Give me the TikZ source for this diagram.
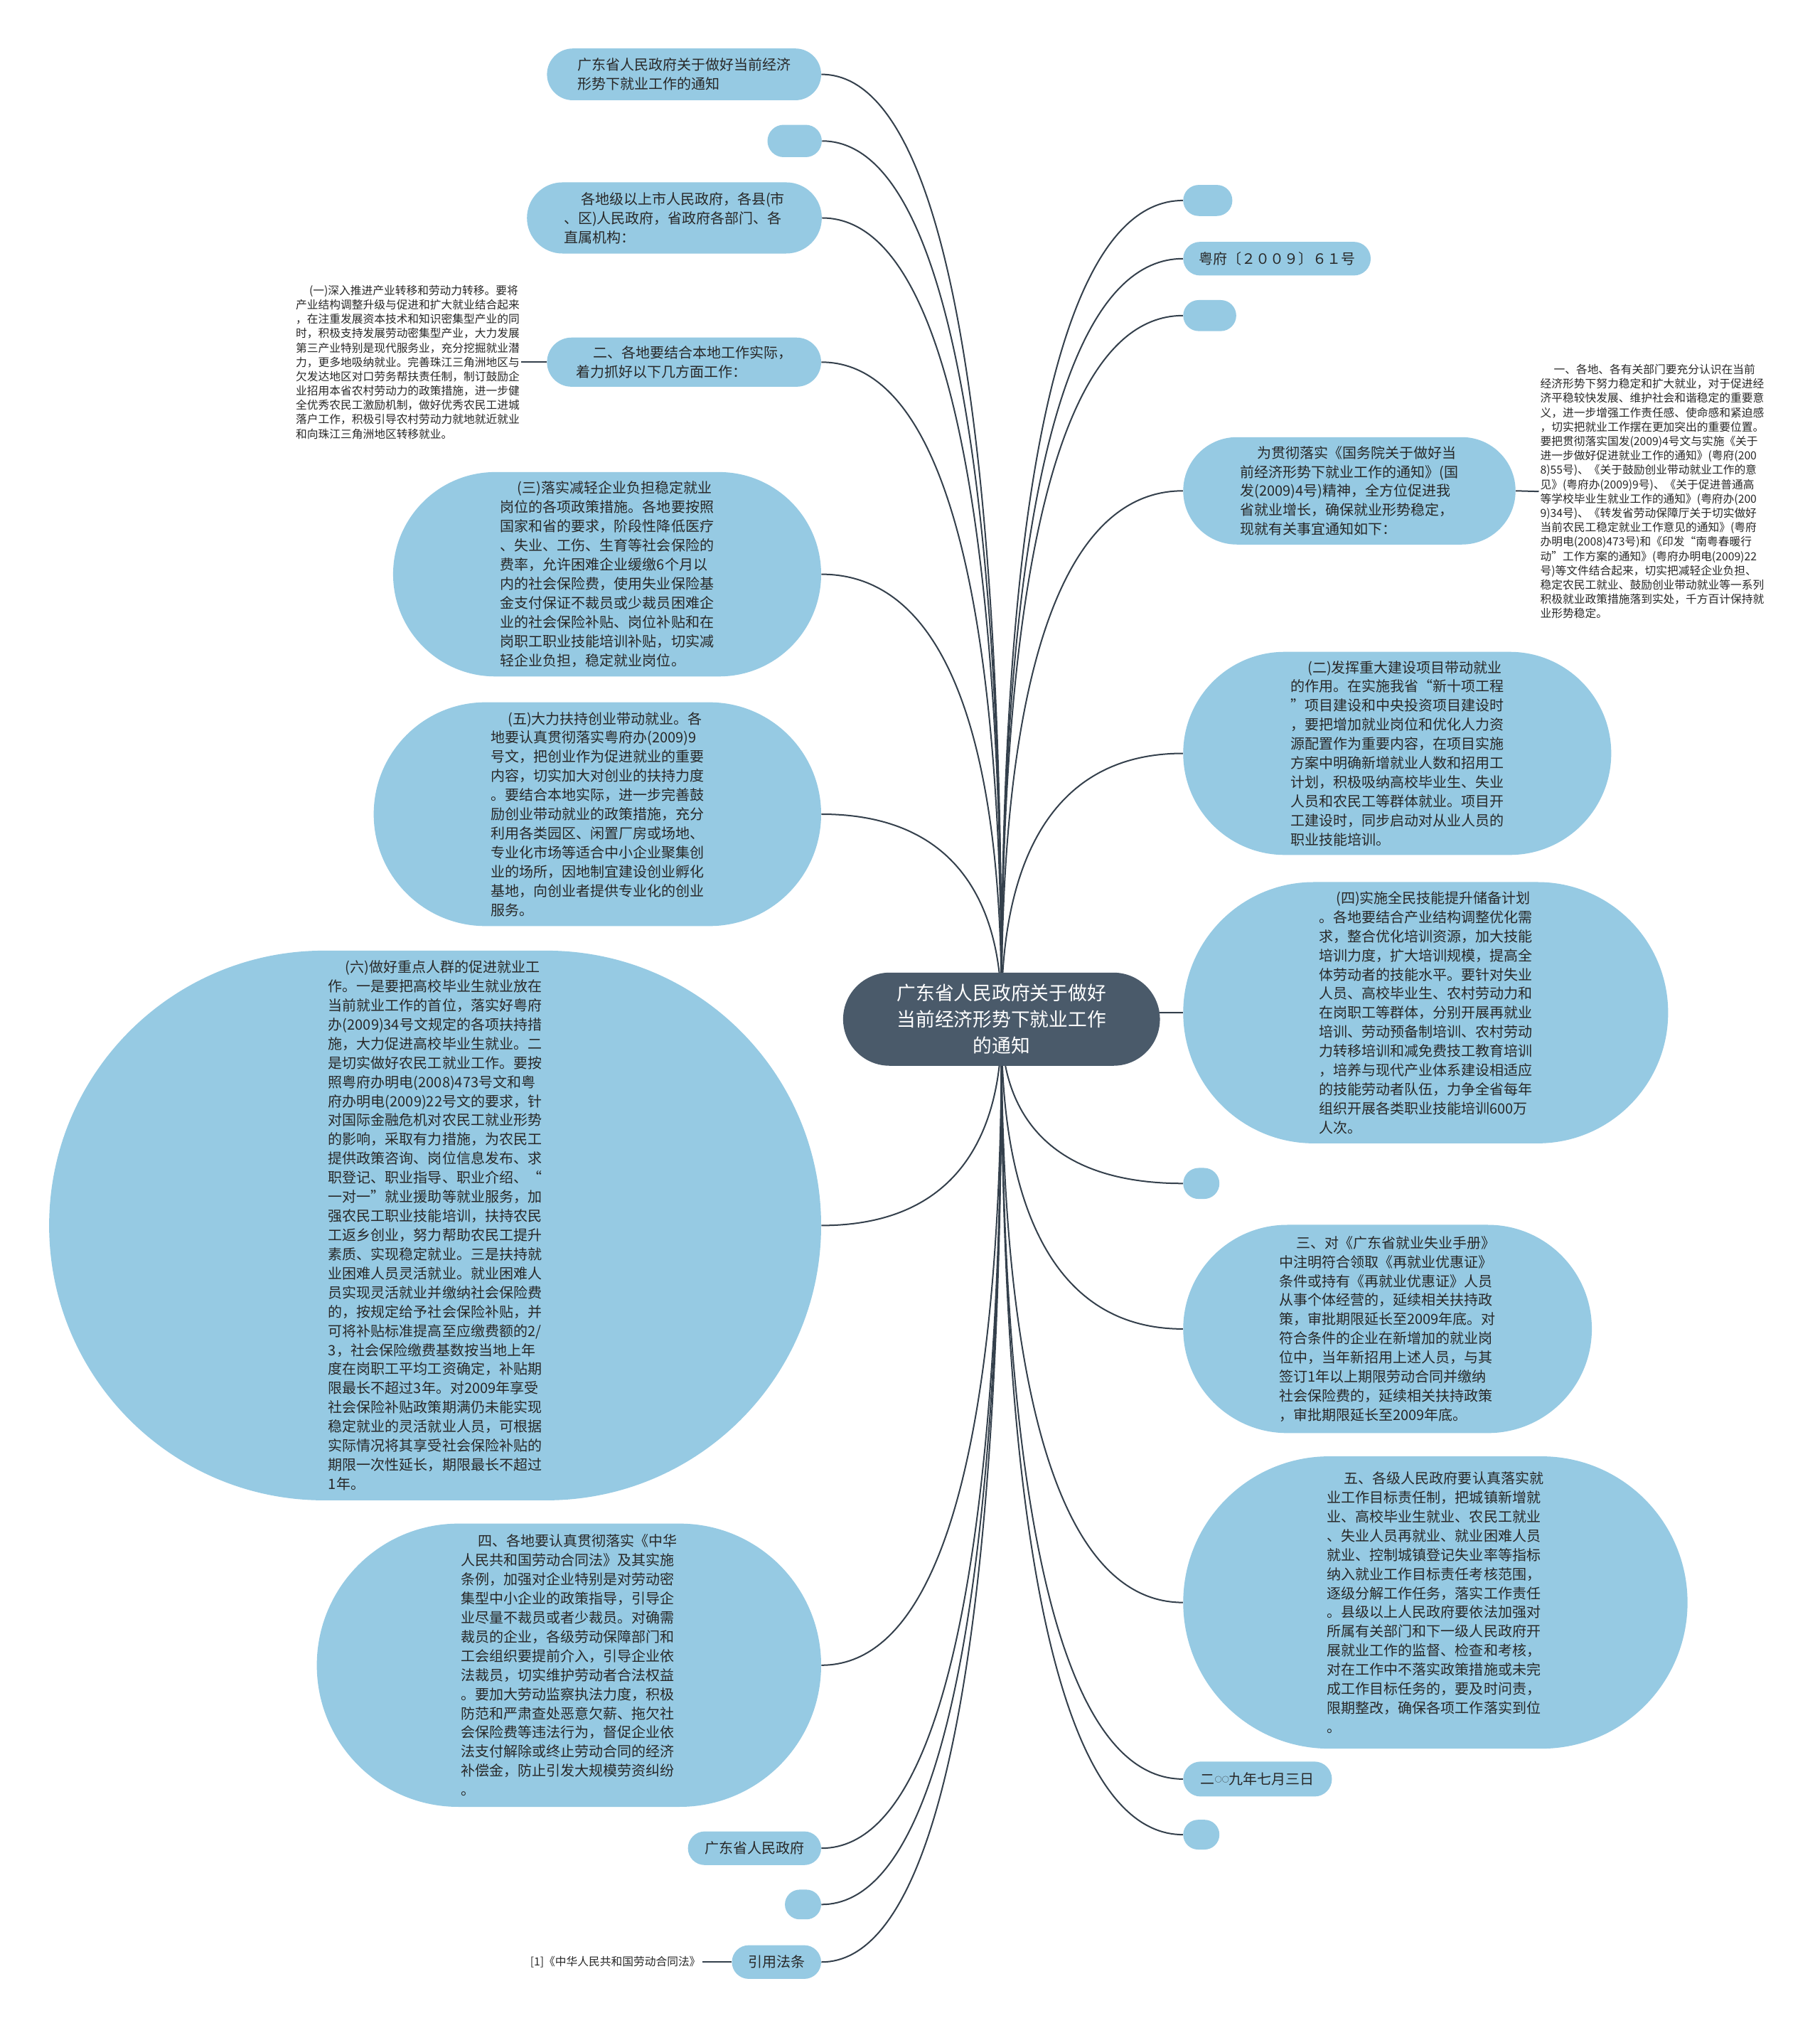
\documentclass[tikz,border=0pt]{standalone}
\usepackage{fontspec}
\setmainfont{Noto Sans CJK SC}
\usetikzlibrary{calc,backgrounds}
\definecolor{nodeblue}{RGB}{150,202,227}
\definecolor{rootgray}{RGB}{74,90,106}
\definecolor{linecol}{RGB}{52,64,76}
\definecolor{txt}{RGB}{40,40,40}
\tikzset{
  bub/.style={fill=nodeblue, text=txt, inner sep=0pt, align=left, font=\fontsize{11}{14.8}\selectfont},
  sz/.style 2 args={minimum width=#1pt, minimum height=#2pt, rounded corners=#2*0.5pt},
  rootbox/.style={fill=rootgray, text=white, inner sep=0pt, align=center, font=\fontsize{14.7}{20.5}\selectfont},
  smalltext/.style={text=txt, inner sep=1pt, align=left, font=\fontsize{8.65}{11.1}\selectfont},
  conn/.style={draw=linecol, line width=1.1pt},
}
\newcommand\ind{\hspace*{1.2em}}
\newcommand\smallcirc{{\fontsize{5.5}{5.5}\selectfont\raisebox{1.4pt}{○○}}}
\newcommand\linkto[2]{\draw[conn] (root.center) .. controls ($(root.center)!0.22!(root.center |- #1.#2)$) and (root.center |- #1.#2) .. (#1.#2);}
\begin{document}
\begin{tikzpicture}[x=1pt,y=-1pt]
\begin{pgfonlayer}{background}
\fill[white] (0,0) rectangle (1407,1568);
\end{pgfonlayer}
\useasboundingbox (0,0) rectangle (1407,1568);

% root
\node[rootbox, sz={245}{72}] (root) at (774.5,788) {广东省人民政府关于做好\\当前经济形势下就业工作\\的通知};

% left side
\node[bub, sz={212}{40}] (L1) at (529,57.5) {广东省人民政府关于做好当前经济\\形势下就业工作的通知};
\node[bub, sz={42}{25}] (L2) at (614.5,109) {};
\node[bub, sz={228}{55}] (L3) at (521.5,168.5) {\ind 各地级以上市人民政府，各县(市\\、区)人民政府，省政府各部门、各\\直属机构：};
\node[bub, sz={212}{38}] (L4) at (529,280) {\ind 二、各地要结合本地工作实际，\\着力抓好以下几方面工作：};
\node[smalltext, anchor=east] (L4a) at (403,280) {\ind (一)深入推进产业转移和劳动力转移。要将\\产业结构调整升级与促进和扩大就业结合起来\\，在注重发展资本技术和知识密集型产业的同\\时，积极支持发展劳动密集型产业，大力发展\\第三产业特别是现代服务业，充分挖掘就业潜\\力，更多地吸纳就业。完善珠江三角洲地区与\\欠发达地区对口劳务帮扶责任制，制订鼓励企\\业招用本省农村劳动力的政策措施，进一步健\\全优秀农民工激励机制，做好优秀农民工进城\\落户工作，积极引导农村劳动力就地就近就业\\和向珠江三角洲地区转移就业。};
\node[bub, sz={331}{158}] (L5) at (469.5,444) {\ind (三)落实减轻企业负担稳定就业\\岗位的各项政策措施。各地要按照\\国家和省的要求，阶段性降低医疗\\、失业、工伤、生育等社会保险的\\费率，允许困难企业缓缴6个月以\\内的社会保险费，使用失业保险基\\金支付保证不裁员或少裁员困难企\\业的社会保险补贴、岗位补贴和在\\岗职工职业技能培训补贴，切实减\\轻企业负担，稳定就业岗位。};
\node[bub, sz={346}{173}] (L6) at (462,629.5) {\ind (五)大力扶持创业带动就业。各\\地要认真贯彻落实粤府办(2009)9\\号文，把创业作为促进就业的重要\\内容，切实加大对创业的扶持力度\\。要结合本地实际，进一步完善鼓\\励创业带动就业的政策措施，充分\\利用各类园区、闲置厂房或场地、\\专业化市场等适合中小企业聚集创\\业的场所，因地制宜建设创业孵化\\基地，向创业者提供专业化的创业\\服务。};
\node[bub, sz={597}{425}] (L7) at (336.5,947.5) {\ind (六)做好重点人群的促进就业工\\作。一是要把高校毕业生就业放在\\当前就业工作的首位，落实好粤府\\办(2009)34号文规定的各项扶持措\\施，大力促进高校毕业生就业。二\\是切实做好农民工就业工作。要按\\照粤府办明电(2008)473号文和粤\\府办明电(2009)22号文的要求，针\\对国际金融危机对农民工就业形势\\的影响，采取有力措施，为农民工\\提供政策咨询、岗位信息发布、求\\职登记、职业指导、职业介绍、“\\一对一”就业援助等就业服务，加\\强农民工职业技能培训，扶持农民\\工返乡创业，努力帮助农民工提升\\素质、实现稳定就业。三是扶持就\\业困难人员灵活就业。就业困难人\\员实现灵活就业并缴纳社会保险费\\的，按规定给予社会保险补贴，并\\可将补贴标准提高至应缴费额的2/\\3，社会保险缴费基数按当地上年\\度在岗职工平均工资确定，补贴期\\限最长不超过3年。对2009年享受\\社会保险补贴政策期满仍未能实现\\稳定就业的灵活就业人员，可根据\\实际情况将其享受社会保险补贴的\\期限一次性延长，期限最长不超过\\1年。};
\node[bub, sz={390}{219}] (L8) at (440,1287.5) {\ind 四、各地要认真贯彻落实《中华\\人民共和国劳动合同法》及其实施\\条例，加强对企业特别是对劳动密\\集型中小企业的政策指导，引导企\\业尽量不裁员或者少裁员。对确需\\裁员的企业，各级劳动保障部门和\\工会组织要提前介入，引导企业依\\法裁员，切实维护劳动者合法权益\\。要加大劳动监察执法力度，积极\\防范和严肃查处恶意欠薪、拖欠社\\会保险费等违法行为，督促企业依\\法支付解除或终止劳动合同的经济\\补偿金，防止引发大规模劳资纠纷\\。};
\node[bub, sz={103}{26}] (L9) at (583.5,1429) {广东省人民政府};
\node[bub, sz={28}{23}] (L10) at (621,1472.5) {};
\node[bub, sz={69}{26}] (L11) at (600.5,1517) {引用法条};
\node[smalltext, anchor=east] (L11a) at (543,1517) {[1]《中华人民共和国劳动合同法》};

% right side
\node[bub, sz={38}{24}] (R1) at (934,155) {};
\node[bub, sz={145}{26}] (R2) at (987.5,200) {粤府〔２００９〕６１号};
\node[bub, sz={41}{24}] (R3) at (935.5,244) {};
\node[bub, sz={257}{83}] (R4) at (1043.5,379.5) {\ind 为贯彻落实《国务院关于做好当\\前经济形势下就业工作的通知》(国\\发(2009)4号)精神，全方位促进我\\省就业增长，确保就业形势稳定，\\现就有关事宜通知如下：};
\node[smalltext, anchor=west] (R4a) at (1190,380) {\ind 一、各地、各有关部门要充分认识在当前\\经济形势下努力稳定和扩大就业，对于促进经\\济平稳较快发展、维护社会和谐稳定的重要意\\义，进一步增强工作责任感、使命感和紧迫感\\，切实把就业工作摆在更加突出的重要位置。\\要把贯彻落实国发(2009)4号文与实施《关于\\进一步做好促进就业工作的通知》(粤府(200\\8)55号)、《关于鼓励创业带动就业工作的意\\见》(粤府办(2009)9号)、《关于促进普通高\\等学校毕业生就业工作的通知》(粤府办(200\\9)34号)、《转发省劳动保障厅关于切实做好\\当前农民工稳定就业工作意见的通知》(粤府\\办明电(2008)473号)和《印发“南粤春暖行\\动”工作方案的通知》(粤府办明电(2009)22\\号)等文件结合起来，切实把减轻企业负担、\\稳定农民工就业、鼓励创业带动就业等一系列\\积极就业政策措施落到实处，千方百计保持就\\业形势稳定。};
\node[bub, sz={331}{157}] (R5) at (1080.5,582.5) {\ind (二)发挥重大建设项目带动就业\\的作用。在实施我省“新十项工程\\”项目建设和中央投资项目建设时\\，要把增加就业岗位和优化人力资\\源配置作为重要内容，在项目实施\\方案中明确新增就业人数和招用工\\计划，积极吸纳高校毕业生、失业\\人员和农民工等群体就业。项目开\\工建设时，同步启动对从业人员的\\职业技能培训。};
\node[bub, sz={375}{202}] (R6) at (1102.5,783) {\ind (四)实施全民技能提升储备计划\\。各地要结合产业结构调整优化需\\求，整合优化培训资源，加大技能\\培训力度，扩大培训规模，提高全\\体劳动者的技能水平。要针对失业\\人员、高校毕业生、农村劳动力和\\在岗职工等群体，分别开展再就业\\培训、劳动预备制培训、农村劳动\\力转移培训和减免费技工教育培训\\，培养与现代产业体系建设相适应\\的技能劳动者队伍，力争全省每年\\组织开展各类职业技能培训600万\\人次。};
\node[bub, sz={28}{24}] (R7) at (929,915) {};
\node[bub, sz={316}{161}] (R8) at (1073,1027.5) {\ind 三、对《广东省就业失业手册》\\中注明符合领取《再就业优惠证》\\条件或持有《再就业优惠证》人员\\从事个体经营的，延续相关扶持政\\策，审批期限延长至2009年底。对\\符合条件的企业在新增加的就业岗\\位中，当年新招用上述人员，与其\\签订1年以上期限劳动合同并缴纳\\社会保险费的，延续相关扶持政策\\，审批期限延长至2009年底。};
\node[bub, sz={390}{226}] (R9) at (1110,1239) {\ind 五、各级人民政府要认真落实就\\业工作目标责任制，把城镇新增就\\业、高校毕业生就业、农民工就业\\、失业人员再就业、就业困难人员\\就业、控制城镇登记失业率等指标\\纳入就业工作目标责任考核范围，\\逐级分解工作任务，落实工作责任\\。县级以上人民政府要依法加强对\\所属有关部门和下一级人民政府开\\展就业工作的监督、检查和考核，\\对在工作中不落实政策措施或未完\\成工作目标任务的，要及时问责，\\限期整改，确保各项工作落实到位\\。};
\node[bub, sz={115}{27}] (R10) at (972.5,1375.5) {二\smallcirc 九年七月三日};
\node[bub, sz={28}{23}] (R11) at (929,1418.5) {};

\begin{pgfonlayer}{background}
\linkto{L1}{east}
\linkto{L2}{east}
\linkto{L3}{east}
\linkto{L4}{east}
\linkto{L5}{east}
\linkto{L6}{east}
\linkto{L7}{east}
\linkto{L8}{east}
\linkto{L9}{east}
\linkto{L10}{east}
\linkto{L11}{east}
\linkto{R1}{west}
\linkto{R2}{west}
\linkto{R3}{west}
\linkto{R4}{west}
\linkto{R5}{west}
\linkto{R6}{west}
\linkto{R7}{west}
\linkto{R8}{west}
\linkto{R9}{west}
\linkto{R10}{west}
\linkto{R11}{west}
\draw[conn] (L4.west) -- (L4a.east);
\draw[conn] (R4.east) -- (R4a.west);
\draw[conn] (L11.west) -- (L11a.east);
\end{pgfonlayer}
\end{tikzpicture}
\end{document}
